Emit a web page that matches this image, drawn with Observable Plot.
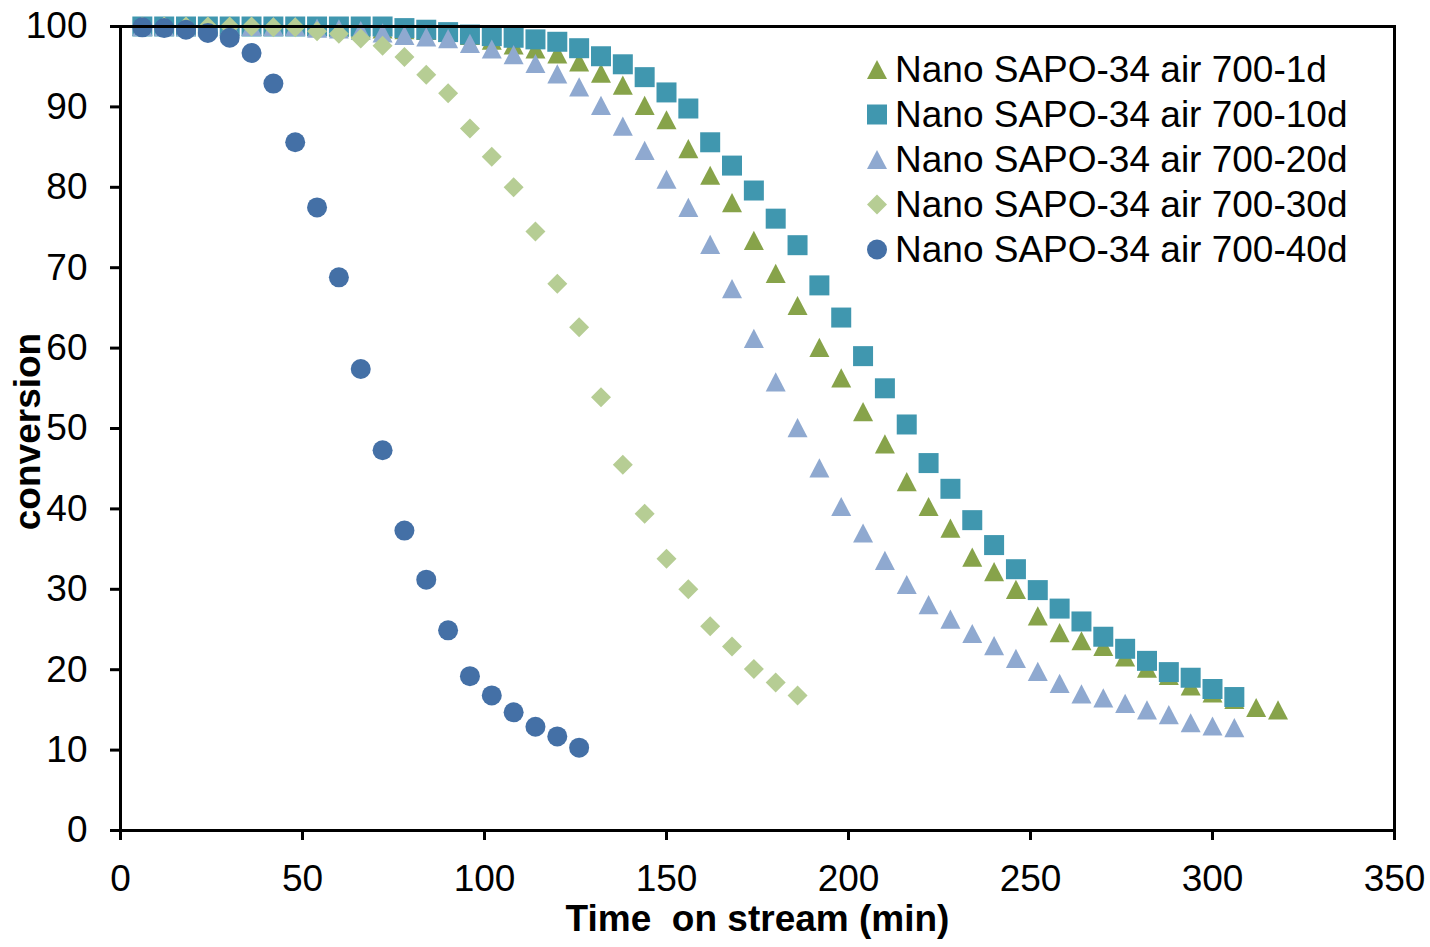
<!DOCTYPE html>
<html>
<head>
<meta charset="utf-8">
<script src="https://cdn.jsdelivr.net/npm/d3@7"></script>
<script src="https://cdn.jsdelivr.net/npm/@observablehq/plot@0.6"></script>
<style>
  html, body { margin: 0; padding: 0; background: #fff; }
  #wrap { position: relative; width: 1430px; height: 947px; overflow: hidden; }
  #legend { position: absolute; left: 0; top: 0; pointer-events: none; }
</style>
</head>
<body>
<div id="wrap"></div>
<script>
// ---- data (time on stream, min) ----
const time = [6,12,18,24,30,36,42,48,54,60,66,72,78,84,90,96,102,108,114,120,126,132,138,144,150,156,162,168,174,180,186,192,198,204,210,216,222,228,234,240,246,252,258,264,270,276,282,288,294,300,306,312,318];

const seriesNames = [
  "Nano SAPO-34 air 700-1d",
  "Nano SAPO-34 air 700-10d",
  "Nano SAPO-34 air 700-20d",
  "Nano SAPO-34 air 700-30d",
  "Nano SAPO-34 air 700-40d"
];

const conv1d = [100,100,100,100,100,100,100,100,100,99.9,99.8,99.7,99.6,99.5,99.3,98.9,98.3,97.7,97.2,96.6,95.6,94.2,92.7,90.2,88.4,84.8,81.5,78.1,73.4,69.3,65.3,60.1,56.3,52.1,48.1,43.4,40.3,37.6,34.0,32.2,30.0,26.7,24.6,23.6,22.9,21.6,20.2,19.3,18.0,17.1,16.3,15.3,15.0];
const conv10d = [100,100,100,100,100,100,100,100,100,100,100,100,99.8,99.6,99.3,99.0,98.8,98.6,98.4,98.1,97.3,96.3,95.3,93.7,91.8,89.8,85.6,82.7,79.6,76.1,72.8,67.8,63.8,59.0,55.0,50.5,45.7,42.5,38.6,35.5,32.5,29.9,27.6,26.0,24.1,22.6,21.1,19.7,19.0,17.6,16.6];
const conv20d = [100,100,100,100,100,100,100,100,99.8,99.7,99.5,99.2,98.9,98.7,98.5,97.9,97.2,96.5,95.4,94.1,92.5,90.2,87.6,84.6,81.0,77.5,72.9,67.4,61.2,55.8,50.1,45.1,40.3,37.0,33.6,30.6,28.1,26.3,24.5,23.0,21.4,19.8,18.3,17.0,16.5,15.8,15.0,14.4,13.4,13.0,12.8];
const conv30d = [100,100,100,100,100,100,99.9,99.9,99.4,99.1,98.5,97.6,96.2,94.0,91.7,87.3,83.8,80.0,74.5,68.0,62.6,53.9,45.5,39.4,33.8,30.0,25.4,22.9,20.1,18.4,16.8];
const conv40d = [99.9,99.8,99.6,99.2,98.6,96.7,92.9,85.6,77.5,68.8,57.4,47.3,37.3,31.2,24.9,19.2,16.8,14.7,12.9,11.7,10.3];

const xTicks = [0,50,100,150,200,250,300,350];
const yTicks = [0,10,20,30,40,50,60,70,80,90,100];

const colors = ["#87a34a", "#4097af", "#8fa9d0", "#b6cd94", "#4470a6"];

// ---- symbols (bounding-box centred, like spreadsheet markers) ----
const rOf = size => Math.sqrt(size / Math.PI);
const triSym = {draw(c, size) { const r = rOf(size); c.moveTo(0, -0.96 * r); c.lineTo(r, 0.96 * r); c.lineTo(-r, 0.96 * r); c.closePath(); }};
const sqSym = {draw(c, size) { const r = rOf(size); c.moveTo(-r, -r); c.lineTo(r, -r); c.lineTo(r, r); c.lineTo(-r, r); c.closePath(); }};
const diaSym = {draw(c, size) { const r = rOf(size); c.moveTo(0, -r); c.lineTo(r, 0); c.lineTo(0, r); c.lineTo(-r, 0); c.closePath(); }};
const cirSym = {draw(c, size) { const r = rOf(size); c.moveTo(r, 0); c.arc(0, 0, r, 0, 2 * Math.PI); c.closePath(); }};
const symbols = [triSym, sqSym, triSym, diaSym, cirSym];

const seriesValues = [conv1d, conv10d, conv20d, conv30d, conv40d];
const tables = seriesValues.map((vals, k) => vals.map((v, i) => ({t: time[i], v, s: seriesNames[k]})));

const font = "'Liberation Sans', Arial, Helvetica, sans-serif";

const chart = Plot.plot({
  width: 1430,
  height: 947,
  marginLeft: 120,
  marginRight: 36,
  marginTop: 26,
  marginBottom: 117,
  style: {fontFamily: font, fontSize: "37px", color: "#000", background: "#fff"},
  x: {domain: [0, 350], ticks: xTicks},
  y: {domain: [0, 100], ticks: yTicks},
  marks: [
    ...tables.map((tbl, k) => Plot.dot(tbl, {x: "t", y: "v", r: 10, symbol: symbols[k], fill: colors[k], stroke: null})),
    Plot.frame({stroke: "#000", strokeWidth: 3}),
    Plot.axisX(xTicks, {tickSize: 10, tickPadding: 24, strokeWidth: 3, fontSize: 37, label: null}),
    Plot.axisY(yTicks, {tickSize: 10, tickPadding: 23, strokeWidth: 3, fontSize: 37, label: null}),
    Plot.text(["Time\u00a0 on stream (min)"], {frameAnchor: "bottom", dy: 89, lineAnchor: "middle", textAnchor: "middle", fontWeight: "bold", fontSize: 37, fill: "#000"}),
    Plot.text(["conversion"], {frameAnchor: "left", dx: -92, dy: 3, rotate: -90, lineAnchor: "middle", textAnchor: "middle", fontWeight: "bold", fontSize: 37, fill: "#000"})
  ]
});

const wrap = document.getElementById("wrap");
wrap.appendChild(chart);

// ---- legend overlay (inside plot, top-right) ----
const leg = d3.select(wrap).append("svg")
  .attr("id", "legend")
  .attr("width", 1430).attr("height", 947);
const rowY0 = 69.5, rowStep = 45;
seriesNames.forEach((name, k) => {
  const cy = rowY0 + k * rowStep;
  const g = leg.append("g").attr("transform", `translate(877,${cy})`);
  g.append("path").attr("d", d3.symbol(symbols[k], Math.PI * 100)()).attr("fill", colors[k]);
  leg.append("text")
    .attr("x", 895).attr("y", cy + 12.8)
    .attr("font-family", font).attr("font-size", 37).attr("fill", "#000")
    .text(name);
});
</script>
</body>
</html>
